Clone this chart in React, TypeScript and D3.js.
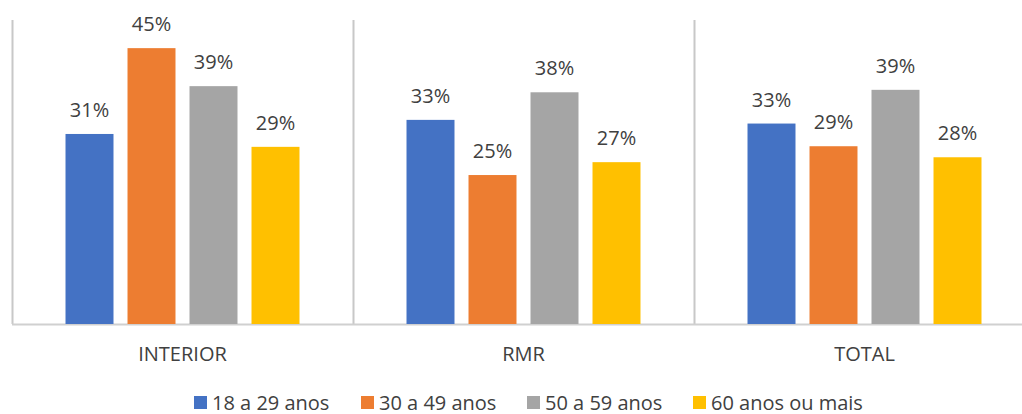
import React from 'react';
import * as d3 from 'd3';

const categories = ['INTERIOR', 'RMR', 'TOTAL'];
const seriesNames = ['18 a 29 anos', '30 a 49 anos', '50 a 59 anos', '60 anos ou mais'];

// bar heights
const age18to29 = [31.0, 33.3, 32.7];
const age30to49 = [45.0, 24.3, 29.0];
const age50to59 = [38.8, 37.8, 38.2];
const age60plus = [28.9, 26.4, 27.2];

// printed data labels
const labels18to29 = ['31%', '33%', '33%'];
const labels30to49 = ['45%', '25%', '29%'];
const labels50to59 = ['39%', '38%', '39%'];
const labels60plus = ['29%', '27%', '28%'];

const seriesValues = [age18to29, age30to49, age50to59, age60plus];
const seriesLabels = [labels18to29, labels30to49, labels50to59, labels60plus];
const colors = ['#4472C4', '#ED7D31', '#A5A5A5', '#FFC000'];

const width = 1022;
const height = 414;
const margin = { top: 20, right: -13, bottom: 90, left: 12 };
const font = '"Open Sans", sans-serif';
const textColor = '#404040';

const App: React.FC = () => {
  const baseline = height - margin.bottom; // 324
  const x0 = d3.scaleBand<string>()
    .domain(categories)
    .range([margin.left, width - margin.right])
    .paddingInner(0)
    .paddingOuter(0);

  const x1 = d3.scaleBand<string>()
    .domain(seriesNames)
    .range([0, x0.bandwidth()])
    .paddingInner(0.226)
    .paddingOuter(0.863);

  const y = d3.scaleLinear().domain([0, 50]).range([baseline, baseline - 306.5]);

  // legend square positions
  const legendX = [194, 361, 527, 693];

  return (
    <svg
      width={width}
      height={height}
      style={{ position: 'absolute', left: 0, top: 0, background: '#fff' }}
      fontFamily={font}
    >
      {/* vertical axis + group separators */}
      {categories.map(c => (
        <line
          key={'sep' + c}
          x1={x0(c)! + 0.5}
          x2={x0(c)! + 0.5}
          y1={margin.top}
          y2={baseline}
          stroke="#C8C8C8"
          strokeWidth={2}
        />
      ))}
      <line x1={margin.left} x2={width} y1={baseline + 0.5} y2={baseline + 0.5} stroke="#D0D0D0" strokeWidth={2} />

      {categories.map((c, ci) => (
        <g key={c} transform={`translate(${x0(c)},0)`}>
          {seriesNames.map((s, si) => {
            const v = seriesValues[si][ci];
            const bx = x1(s)!;
            const top = y(v);
            return (
              <g key={s}>
                <rect x={bx} y={top} width={x1.bandwidth()} height={baseline - top} fill={colors[si]} />
                <text
                  x={bx + x1.bandwidth() / 2}
                  y={top - 17}
                  textAnchor="middle"
                  fontSize={20}
                  fill={textColor}
                >
                  {seriesLabels[si][ci]}
                </text>
              </g>
            );
          })}
          <text x={x0.bandwidth() / 2} y={361} textAnchor="middle" fontSize={20} fill={textColor}>
            {c}
          </text>
        </g>
      ))}

      {/* legend */}
      {seriesNames.map((s, i) => (
        <g key={'lg' + s} transform={`translate(${legendX[i]},0)`}>
          <rect x={0} y={396} width={13} height={13} fill={colors[i]} />
          <text x={18} y={410} fontSize={20} fill={textColor}>
            {s}
          </text>
        </g>
      ))}
    </svg>
  );
};

export default App;
